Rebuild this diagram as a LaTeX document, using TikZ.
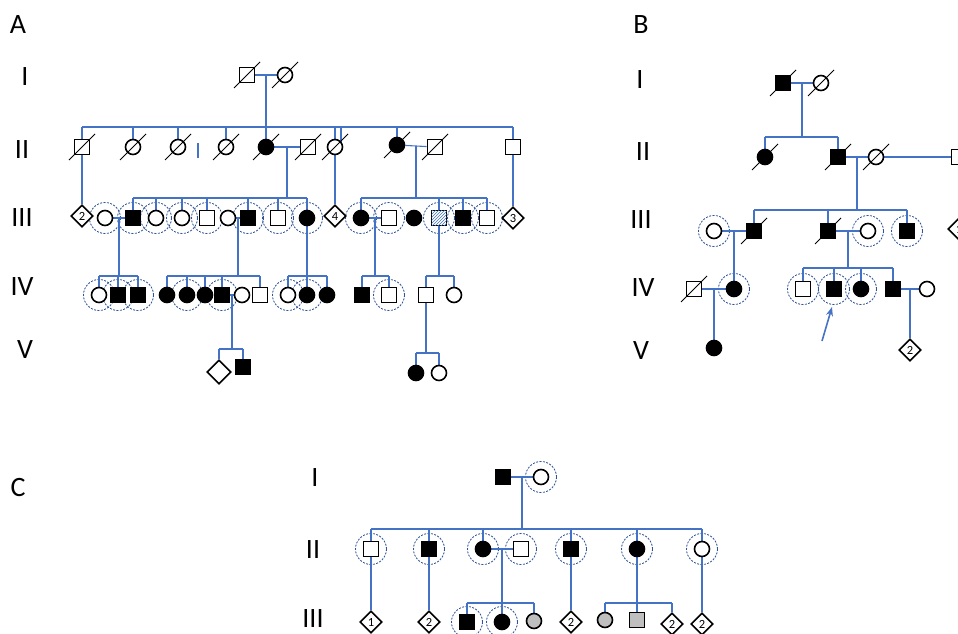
\documentclass[tikz,border=0pt]{standalone}
\usepackage{fontspec}
\setmainfont{Carlito}
\usetikzlibrary{shapes.geometric,backgrounds,calc,patterns,arrows.meta}
\definecolor{lnblue}{RGB}{68,114,196}
\definecolor{ringblue}{RGB}{47,85,151}
\definecolor{shade}{RGB}{191,191,191}
\tikzset{
  ln/.style={draw=lnblue,line width=1.1pt},
  sym/.style={draw=black,line width=1.6pt,fill=white,inner sep=0pt},
  male/.style={sym,rectangle,minimum size=15pt},
  female/.style={sym,circle,minimum size=15pt},
  unk/.style={sym,diamond,aspect=1,minimum size=22pt,font=\fontsize{12.5}{12.5}\selectfont},
  aff/.style={fill=black},
  shaded/.style={fill=shade},
  hatched/.style={postaction={pattern=north east lines,pattern color=lnblue}},
  tested/.style={draw=ringblue,line width=.85pt,dash pattern=on 2pt off 1.4pt},
  slash/.style={black,line width=1pt},
  gen/.style={font=\fontsize{28}{28}\selectfont,inner sep=0pt,text depth=0pt},
}
\begin{document}
\begin{tikzpicture}[x=1pt,y=-1pt]
\useasboundingbox (0,0) rectangle (958,634);
% generation labels
\node[gen] (labA) at (18,25) {A};
\node[gen] (labB) at (641,25) {B};
\node[gen] (labC) at (18,487) {C};
\node[gen] (aGI) at (25,77) {I};
\node[gen] (aGII) at (22,150) {II};
\node[gen] (aGIII) at (22,218) {III};
\node[gen] (aGIV) at (22,287) {IV};
\node[gen] (aGV) at (25,350) {V};
\node[gen] (bGI) at (640,80) {I};
\node[gen] (bGII) at (643,152) {II};
\node[gen] (bGIII) at (641,220) {III};
\node[gen] (bGIV) at (643,288) {IV};
\node[gen] (bGV) at (641,351) {V};
\node[gen] (cGI) at (315,478) {I};
\node[gen] (cGII) at (313,550) {II};
\node[gen] (cGIII) at (313,619) {III};

% panel A
\node[male] (aIm) at (247,75) {};
\node[female] (aIf) at (285,75) {};
\node[male] (a2a) at (82,147) {};
\node[female] (a2b) at (133,147) {};
\node[female] (a2c) at (178,147) {};
\node[female] (a2d) at (226,147) {};
\node[female,aff] (a2e) at (266,147) {};
\node[male] (a2f) at (308,147) {};
\node[female] (a2g) at (335,147) {};
\node[female,aff] (a2h) at (397,145) {};
\node[male] (a2i) at (435,147) {};
\node[male] (a2j) at (513,147) {};
\node[unk] (a3a) at (82,216) {2};
\node[female] (a3b) at (105,218) {};
\node[male,aff] (a3c) at (133,218) {};
\node[female] (a3d) at (156,218) {};
\node[female] (a3e) at (182,218) {};
\node[male] (a3f) at (207,218) {};
\node[female] (a3g) at (228,218) {};
\node[male,aff] (a3h) at (248,218) {};
\node[male] (a3i) at (278,218) {};
\node[female,aff] (a3j) at (307,218) {};
\node[unk] (a3k) at (335,216) {4};
\node[female,aff] (a3l) at (361,218) {};
\node[male] (a3m) at (389,218) {};
\node[female,aff] (a3n) at (414,218) {};
\node[male,hatched] (a3o) at (439,218) {};
\node[male,aff] (a3p) at (463,218) {};
\node[male] (a3q) at (487,218) {};
\node[unk] (a3r) at (513,218) {3};
\node[female] (a4a) at (99,295) {};
\node[male,aff] (a4b) at (118,295) {};
\node[male,aff] (a4c) at (138,295) {};
\node[female,aff] (a4d) at (167,295) {};
\node[female,aff] (a4e) at (187,295) {};
\node[female,aff] (a4f) at (205,295) {};
\node[male,aff] (a4g) at (222,295) {};
\node[female] (a4h) at (242,295) {};
\node[male] (a4i) at (260,295) {};
\node[female] (a4j) at (288,295) {};
\node[female,aff] (a4k) at (307,295) {};
\node[female,aff] (a4l) at (327,295) {};
\node[male,aff] (a4m) at (362,295) {};
\node[male] (a4n) at (389,295) {};
\node[male] (a4o) at (426,295) {};
\node[female] (a4p) at (454,295) {};
\node[unk,minimum size=24pt] (a5a) at (219,372) {};
\node[male,aff] (a5b) at (243,367) {};
\node[female,aff] (a5c) at (416,373) {};
\node[female] (a5d) at (439,373) {};

% panel B
\node[male,aff] (bIm) at (783,83) {};
\node[female] (bIf) at (821,83) {};
\node[female,aff] (b2a) at (765,157) {};
\node[male,aff] (b2b) at (838,157) {};
\node[female] (b2c) at (876,157) {};
\node[male] (b2d) at (959,157) {};
\node[female] (b3a) at (714,231) {};
\node[male,aff] (b3b) at (754,231) {};
\node[male,aff] (b3c) at (828,231) {};
\node[female] (b3d) at (868,231) {};
\node[male,aff] (b3e) at (907,231) {};
\node[unk] (b3f) at (959,229) {1};
\node[male] (b4a) at (694,289) {};
\node[female,aff] (b4b) at (734,289) {};
\node[male] (b4c) at (803,289) {};
\node[male,aff] (b4d) at (834,289) {};
\node[female,aff] (b4e) at (861,289) {};
\node[male,aff] (b4f) at (893,289) {};
\node[female] (b4g) at (927,289) {};
\node[female,aff] (b5a) at (714,348) {};
\node[unk] (b5b) at (910,350) {2};
\coordinate (arrowtail) at (822,341);

% panel C
\node[male,aff] (cIm) at (503,477) {};
\node[female] (cIf) at (541,477) {};
\node[male] (c2a) at (371,549) {};
\node[male,aff] (c2b) at (429,549) {};
\node[female,aff] (c2c) at (483,549) {};
\node[male] (c2d) at (521,549) {};
\node[male,aff] (c2e) at (571,549) {};
\node[female,aff] (c2f) at (637,549) {};
\node[female] (c2g) at (702,549) {};
\node[unk] (c3a) at (371,622) {1};
\node[unk] (c3b) at (429,622) {2};
\node[male,aff] (c3c) at (467,622) {};
\node[female,aff] (c3d) at (502,622) {};
\node[female,shaded] (c3e) at (534,621) {};
\node[unk] (c3f) at (571,622) {2};
\node[female,shaded] (c3g) at (605,620) {};
\node[male,shaded] (c3h) at (637,620) {};
\node[unk] (c3i) at (672,624) {2};
\node[unk] (c3j) at (702,624) {2};

% deceased
\foreach \n in {aIm,aIf,a2a,a2b,a2c,a2d,a2e,a2f,a2g,a2h,a2i,bIm,bIf,b2a,b2b,b2c,b3b,b3c,b4a}
  \draw[slash] (\n) +(-13,13) -- +(13,-13);

\begin{scope}[on background layer]
% examined
\foreach \n in {a3b,a3c,a3d,a3e,a3f,a3h,a3i,a3j,a3l,a3m,a3o,a3p,a3q,a4a,a4b,a4c,a4e,a4g,a4j,a4k,a4n,
  b3a,b3d,b3e,b4b,b4c,b4d,b4e,cIf,c2a,c2b,c2c,c2d,c2e,c2f,c2g,c3c,c3d}
  \draw[tested] (\n) circle[radius=15.5pt];
% sibship levels
\coordinate (aS2) at (0,127);
\coordinate (aS3) at (0,198);
\coordinate (aS4) at (0,276);
\coordinate (aS5a) at (0,349);
\coordinate (aS5b) at (0,353);
\coordinate (bS2) at (0,137);
\coordinate (bS3) at (0,210);
\coordinate (bS4) at (0,268);
\coordinate (cS2) at (0,529);
\coordinate (cS3) at (0,603);
% panel A lines
\draw[ln] (aIm) -- (aIf);
\draw[ln] ($(aIm)!.5!(aIf)$) -- (a2e);
\draw[ln] (a2a |- aS2) -- (a2j |- aS2);
\foreach \n in {a2b,a2c,a2d,a2h} \draw[ln] (\n) -- (\n |- aS2);
\draw[ln] (a2a |- aS2) -- (a3a);
\draw[ln] (a2g |- aS2) -- (a3k);
\draw[ln] ([xshift=6pt]a2g.center) -- ([xshift=6pt]a2g.center |- aS2);
\draw[ln] (a2j |- aS2) -- (a3r);
\draw[ln] (198,143) -- (198,158);
\draw[ln] (a2e) -- (a2f);
\draw[ln] ($(a2e)!.5!(a2f)$) coordinate (aD3a) -- (aD3a |- aS3);
\draw[ln] (a2h) -- (a2i);
\draw[ln] ($(a2h)!.5!(a2i)$) coordinate (aD3b) -- (aD3b |- aS3);
\draw[ln] (a3c |- aS3) -- (a3j |- aS3);
\draw[ln] (a3l |- aS3) -- (a3q |- aS3);
\foreach \n in {a3c,a3d,a3e,a3f,a3h,a3i,a3j,a3l,a3o,a3p,a3q} \draw[ln] (\n) -- (\n |- aS3);
\draw[ln] (a3b) -- (a3c);
\draw[ln] ($(a3b)!.5!(a3c)$) coordinate (aD4a) -- (aD4a |- aS4);
\draw[ln] (a3g) -- (a3h);
\draw[ln] ($(a3g)!.5!(a3h)$) coordinate (aD4b) -- (aD4b |- aS4);
\draw[ln] (a3l) -- (a3m);
\draw[ln] ($(a3l)!.5!(a3m)$) coordinate (aD4d) -- (aD4d |- aS4);
\draw[ln] (a3j) -- (a3j |- aS4);
\draw[ln] (a3o) -- (a3o |- aS4);
\draw[ln] (a4a |- aS4) -- (a4c |- aS4);
\draw[ln] (a4d |- aS4) -- (a4i |- aS4);
\draw[ln] (a4j |- aS4) -- (a4l |- aS4);
\draw[ln] (a4m |- aS4) -- (a4n |- aS4);
\draw[ln] (a4o |- aS4) -- (a4p |- aS4);
\foreach \n in {a4a,a4b,a4c,a4d,a4e,a4f,a4g,a4i,a4j,a4k,a4l,a4m,a4n,a4o,a4p} \draw[ln] (\n) -- (\n |- aS4);
\draw[ln] (a4g) -- (a4h);
\draw[ln] ($(a4g)!.5!(a4h)$) coordinate (aD5a) -- (aD5a |- aS5a);
\draw[ln] (a5a |- aS5a) -- (a5b |- aS5a);
\foreach \n in {a5a,a5b} \draw[ln] (\n) -- (\n |- aS5a);
\draw[ln] (a4o) -- (a4o |- aS5b);
\draw[ln] (a5c |- aS5b) -- (a5d |- aS5b);
\foreach \n in {a5c,a5d} \draw[ln] (\n) -- (\n |- aS5b);
% panel B lines
\draw[ln] (bIm) -- (bIf);
\draw[ln] ($(bIm)!.5!(bIf)$) coordinate (bD2) -- (bD2 |- bS2);
\draw[ln] (b2a |- bS2) -- (b2b |- bS2);
\foreach \n in {b2a,b2b} \draw[ln] (\n) -- (\n |- bS2);
\draw[ln] (b2b) -- (b2c) -- (b2d);
\draw[ln] (b2d) -- (b3f);
\draw[ln] ($(b2b)!.5!(b2c)$) coordinate (bD3) -- (bD3 |- bS3);
\draw[ln] (b3b |- bS3) -- (b3e |- bS3);
\foreach \n in {b3b,b3c,b3e} \draw[ln] (\n) -- (\n |- bS3);
\draw[ln] (b3a) -- (b3b);
\draw[ln] ($(b3a)!.5!(b3b)$) -- (b4b);
\draw[ln] (b3c) -- (b3d);
\draw[ln] ($(b3c)!.5!(b3d)$) coordinate (bD4) -- (bD4 |- bS4);
\draw[ln] (b4c |- bS4) -- (b4f |- bS4);
\foreach \n in {b4c,b4d,b4e,b4f} \draw[ln] (\n) -- (\n |- bS4);
\draw[ln] (b4a) -- (b4b);
\draw[ln] (b5a |- b4a) -- (b5a);
\draw[ln] (b4f) -- (b4g);
\draw[ln] (b5b |- b4f) -- (b5b);
% panel C lines
\draw[ln] (cIm) -- (cIf);
\draw[ln] ($(cIm)!.5!(cIf)$) coordinate (cD2) -- (cD2 |- cS2);
\draw[ln] (c2a |- cS2) -- (c2g |- cS2);
\foreach \n in {c2a,c2b,c2c,c2e,c2f,c2g} \draw[ln] (\n) -- (\n |- cS2);
\draw[ln] (c2a) -- (c3a);
\draw[ln] (c2b) -- (c3b);
\draw[ln] (c2e) -- (c3f);
\draw[ln] (c2g) -- (c3j);
\draw[ln] (c2c) -- (c2d);
\draw[ln] ($(c2c)!.5!(c2d)$) -- (c3d);
\draw[ln] (c3c |- cS3) -- (c3e |- cS3);
\foreach \n in {c3c,c3e} \draw[ln] (\n) -- (\n |- cS3);
\draw[ln] (c2f) -- (c3h);
\draw[ln] (c3g |- cS3) -- (c3i |- cS3);
\foreach \n in {c3g,c3i} \draw[ln] (\n) -- (\n |- cS3);
\end{scope}

% proband
\draw[lnblue,line width=1.6pt,-{Stealth[length=9pt,width=7pt]}] (arrowtail) -- ($(b4d)+(-2,18)$);
\end{tikzpicture}
\end{document}
